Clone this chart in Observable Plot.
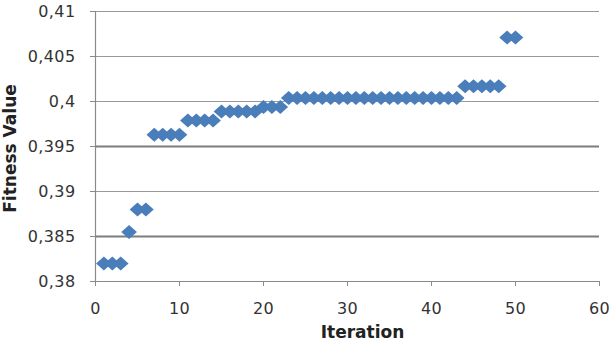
<!DOCTYPE html>
<html><head><meta charset="utf-8">
<script src="https://cdn.jsdelivr.net/npm/d3@7"></script>
<script src="https://cdn.jsdelivr.net/npm/@observablehq/plot@0.6"></script>
<style>
html,body{margin:0;padding:0;background:#fff;}
g[aria-label="y-axis tick label"] text, g[aria-label="x-axis tick label"] text {letter-spacing:0.4px;}
</style></head><body><div id="chart"></div>
<script>
const iterations = [1,2,3,4,5,6,7,8,9,10,11,12,13,14,15,16,17,18,19,20,21,22,23,24,25,26,27,28,29,30,31,32,33,34,35,36,37,38,39,40,41,42,43,44,45,46,47,48,49,50];
const fitness = [0.382,0.382,0.382,0.3855,0.388,0.388,0.3963,0.3963,0.3963,0.3963,
  0.3979,0.3979,0.3979,0.3979,0.3989,0.3989,0.3989,0.3989,0.3989,0.3994,0.3994,0.3994,
  0.4004,0.4004,0.4004,0.4004,0.4004,0.4004,0.4004,0.4004,0.4004,0.4004,0.4004,0.4004,
  0.4004,0.4004,0.4004,0.4004,0.4004,0.4004,0.4004,0.4004,0.4004,
  0.4017,0.4017,0.4017,0.4017,0.4017,0.4071,0.4071];
const yTicks = [0.38,0.385,0.39,0.395,0.4,0.405,0.41];
const yTickLabels = ["0,38","0,385","0,39","0,395","0,4","0,405","0,41"];
const xTicks = [0,10,20,30,40,50,60];
const xTickLabels = ["0","10","20","30","40","50","60"];
const darkGrid = [0.385,0.395];
const lightGrid = [0.39,0.4,0.405,0.41];

const data = iterations.map((x,i)=>({x, y: fitness[i]}));
const yLab = d => yTickLabels[yTicks.findIndex(t => Math.abs(t-d) < 1e-9)];
const xLab = d => xTickLabels[xTicks.indexOf(d)];

// Excel-style diamond, slightly wider than tall
const wideDiamond = {
  draw(context, size) {
    const h = Math.sqrt(size / Math.PI);
    const w = h * 1.12;
    context.moveTo(0, -h);
    context.lineTo(w, 0);
    context.lineTo(0, h);
    context.lineTo(-w, 0);
    context.closePath();
  }
};

const chart = Plot.plot({
  width: 611, height: 349,
  marginLeft: 95, marginRight: 12, marginTop: 11, marginBottom: 68,
  style: {fontFamily: "DejaVu Sans", fontSize: "16px", color: "#333", background: "#fff"},
  x: {domain: [0, 60], label: null},
  y: {domain: [0.38, 0.41], label: null},
  marks: [
    Plot.ruleY(lightGrid, {stroke: "#999", strokeWidth: 1.2}),
    Plot.ruleY(darkGrid, {stroke: "#7d7d7d", strokeWidth: 2}),
    Plot.ruleX([0], {stroke: "#8a8a8a", strokeWidth: 1.2}),
    Plot.ruleY([0.38], {stroke: "#8a8a8a", strokeWidth: 1.2}),
    Plot.axisY({ticks: yTicks, tickFormat: yLab, tickSize: 5, tickPadding: 15, stroke: "#8a8a8a", fill: "#333", fontSize: 16, label: null}),
    Plot.axisX({ticks: xTicks, tickFormat: xLab, tickSize: 5, tickPadding: 16, stroke: "#8a8a8a", fill: "#333", fontSize: 16, label: null}),
    Plot.dot(data, {x: "x", y: "y", symbol: wideDiamond, r: 7, fill: "#4a7ebb", stroke: "none"}),
    Plot.text(["Fitness Value"], {frameAnchor: "left", rotate: -90, textAnchor: "middle", dx: -85, dy: 2, fontWeight: "bold", fontSize: 17, fill: "#222"}),
    Plot.text(["Iteration"], {frameAnchor: "bottom", textAnchor: "middle", dx: 15, dy: 56, fontWeight: "bold", fontSize: 17, fill: "#222"})
  ]
});
document.getElementById("chart").appendChild(chart);
</script></body></html>
